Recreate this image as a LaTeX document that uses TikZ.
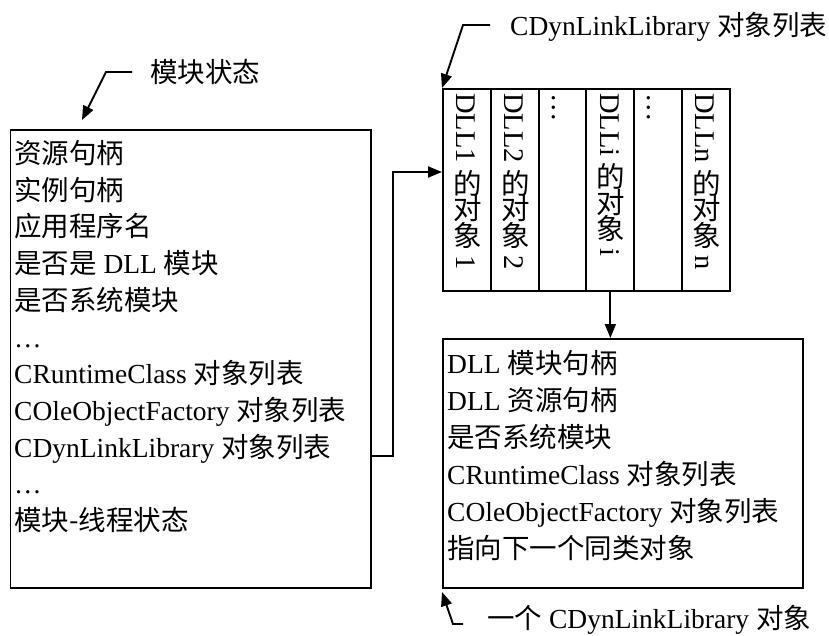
\documentclass[tikz,border=0pt]{standalone}
\usepackage{graphicx}
\usepackage{fontspec}
\setmainfont{Liberation Serif}
\newfontfamily\zhfont{Noto Sans CJK SC}
\newcommand\zh[1]{{\zhfont #1}}
\newcommand\vzh[1]{\rotatebox[origin=c]{90}{\zhfont #1}}
\usetikzlibrary{arrows.meta}
\begin{document}
\begin{tikzpicture}[x=1pt,y=-1pt,
  font=\fontsize{27.5}{33}\selectfont,
  box/.style={draw, line width=1.9pt, inner sep=0pt, anchor=north west},
  col/.style={draw, line width=1.9pt, inner sep=0pt, anchor=north west, minimum width=47.83pt, minimum height=202pt},
  ln/.style={anchor=base west, inner sep=0pt},
  vt/.style={rotate=-90, anchor=base west, inner sep=0pt, font=\fontsize{28.5}{33}\selectfont},
  arr/.style={line width=1.9pt, -{Triangle[length=14pt,width=11pt]}},
  lk/.style={line width=1.9pt}]
\useasboundingbox (0,0) rectangle (829,635);

% module state box
\node[box, minimum width=360.5pt, minimum height=458pt] (ms) at (9.5,129) {};
\node[ln] (l1) at (14,163.5) {\zh{资源句柄}};
\node[ln] (l2) at (14,200.2) {\zh{实例句柄}};
\node[ln] (l3) at (14,236.9) {\zh{应用程序名}};
\node[ln] (l4) at (14,273.6) {\zh{是否是} DLL \zh{模块}};
\node[ln] (l5) at (14,310.3) {\zh{是否系统模块}};
\node[ln] (l6) at (14,347.0) {…};
\node[ln] (l7) at (14,383.7) {CRuntimeClass \zh{对象列表}};
\node[ln] (l8) at (14,420.4) {COleObjectFactory \zh{对象列表}};
\node[ln] (l9) at (14,457.1) {CDynLinkLibrary \zh{对象列表}};
\node[ln] (l10) at (14,493.8) {…};
\node[ln] (l11) at (14,530.5) {\zh{模块-线程状态}};

% list of CDynLinkLibrary objects
\node[col] (c1) at (442,88) {};
\node[col] (c2) at (489.83,88) {};
\node[col] (c3) at (537.66,88) {};
\node[col] (c4) at (585.49,88) {};
\node[col] (c5) at (633.32,88) {};
\node[col] (c6) at (681.15,88) {};
\node[vt] (v1) at (456.6,93) {DLL1 \vzh{的}\vzh{对}\vzh{象} 1};
\node[vt] (v2) at (504.4,93) {DLL2 \vzh{的}\vzh{对}\vzh{象} 2};
\node[vt] (v3) at (552.3,93) {…};
\node[vt] (v4) at (600.1,93) {DLLi \vzh{的}\vzh{对}\vzh{象} i};
\node[vt] (v5) at (647.9,93) {…};
\node[vt] (v6) at (695.8,93) {DLLn \vzh{的}\vzh{对}\vzh{象} n};

% one CDynLinkLibrary object
\node[box, minimum width=360pt, minimum height=249pt] (ob) at (442,338) {};
\node[ln] (o1) at (447,373.5) {DLL \zh{模块句柄}};
\node[ln] (o2) at (447,410.5) {DLL \zh{资源句柄}};
\node[ln] (o3) at (447,447.5) {\zh{是否系统模块}};
\node[ln] (o4) at (447,484.5) {CRuntimeClass \zh{对象列表}};
\node[ln] (o5) at (447,521.5) {COleObjectFactory \zh{对象列表}};
\node[ln] (o6) at (447,558.5) {\zh{指向下一个同类对象}};

% callout labels
\node[ln] (t1) at (150,82.5) {\zh{模块状态}};
\node[ln] (t2) at (510,35.5) {CDynLinkLibrary \zh{对象列表}};
\node[ln] (t3) at (487,628.5) {\zh{一个} CDynLinkLibrary \zh{对象}};
\coordinate (k1) at (132,72);
\coordinate (k2) at (490,25);
\coordinate (k3) at (463,624);

\draw[arr] (k1) -- (106,72) -- (82,120);
\draw[arr] (k2) -- (463,25) -- (c1.north west);
\draw[arr] (k3) -- (453,624) -- (ob.south west |- 0,592);

% connectors
\draw[arr] (ms.east |- 0,456) -- (393,456) -- (393,172) -- (c1.west |- 0,172);
\draw[arr] (c4.south) -- (c4.south |- ob.north);
\end{tikzpicture}
\end{document}
